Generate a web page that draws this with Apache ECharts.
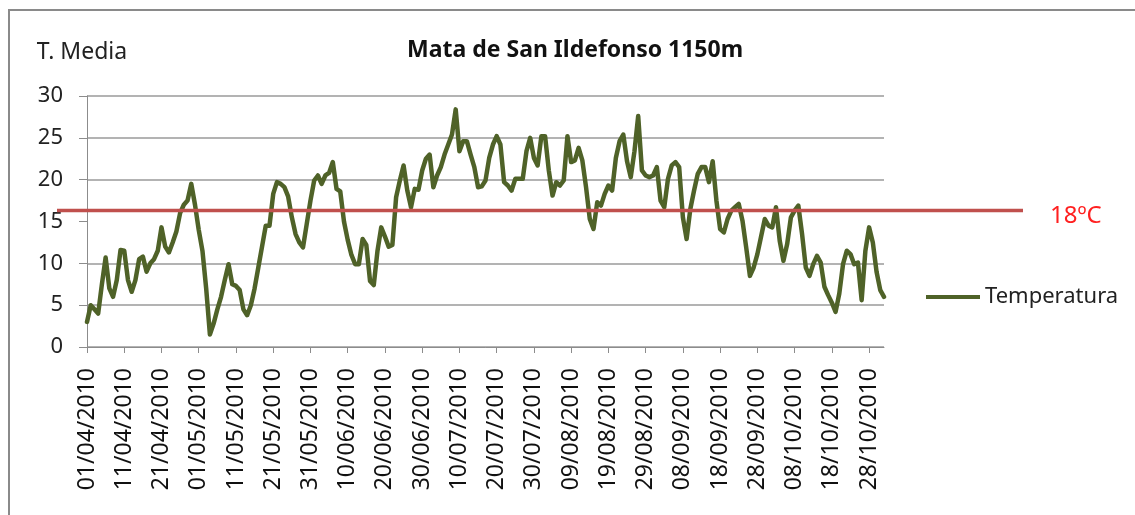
<!DOCTYPE html>
<html>
<head>
<meta charset="utf-8">
<title>Mata de San Ildefonso 1150m</title>
<script src="https://cdn.jsdelivr.net/npm/echarts@6/dist/echarts.min.js"></script>
<style>
  html, body { margin: 0; padding: 0; background: #fff; }
  #main { width: 1135px; height: 515px; }
</style>
</head>
<body>
<div id="main"></div>
<script>
// daily mean temperature, 01/04/2010 .. 01/11/2010
var temperatura = [
  3.0, 5.0, 4.5, 4.0, 7.5, 10.7, 7.0, 6.0, 8.0, 11.6,
  11.5, 8.0, 6.6, 8.0, 10.5, 10.8, 9.0, 10.0, 10.5, 11.5,
  14.3, 12.0, 11.3, 12.5, 13.8, 16.0, 17.0, 17.5, 19.5, 17.0,
  14.0, 11.5, 7.0, 1.5, 2.8, 4.5, 6.0, 8.0, 9.9, 7.5,
  7.3, 6.8, 4.5, 3.8, 5.0, 7.0, 9.5, 12.0, 14.5, 14.5,
  18.3, 19.7, 19.5, 19.1, 18.0, 15.5, 13.5, 12.5, 11.9, 14.7,
  17.5, 19.9, 20.5, 19.5, 20.5, 20.8, 22.1, 18.9, 18.6, 15.0,
  12.8, 11.0, 9.9, 9.9, 12.9, 12.2, 7.9, 7.4, 11.5, 14.3,
  13.2, 12.0, 12.2, 17.9, 19.9, 21.7, 18.7, 16.7, 18.9, 18.8,
  21.1, 22.5, 23.0, 19.1, 20.5, 21.5, 23.0, 24.2, 25.4, 28.4,
  23.4, 24.6, 24.6, 23.0, 21.5, 19.1, 19.2, 19.9, 22.6, 24.2,
  25.2, 24.2, 19.7, 19.3, 18.7, 20.1, 20.1, 20.1, 23.4, 25.0,
  22.6, 21.7, 25.2, 25.2, 21.1, 18.1, 19.7, 19.3, 19.9, 25.2,
  22.1, 22.3, 23.8, 22.3, 19.1, 15.3, 14.1, 17.3, 16.9, 18.3,
  19.3, 18.7, 22.6, 24.6, 25.4, 22.2, 20.3, 23.4, 27.6, 21.1,
  20.5, 20.3, 20.5, 21.5, 17.5, 16.7, 20.1, 21.7, 22.1, 21.5,
  15.5, 12.9, 16.5, 18.7, 20.7, 21.5, 21.5, 19.7, 22.2, 17.5,
  14.1, 13.7, 15.3, 16.3, 16.7, 17.1, 15.1, 11.9, 8.5, 9.5,
  11.1, 13.2, 15.3, 14.5, 14.3, 16.7, 12.7, 10.3, 12.3, 15.5,
  16.3, 16.9, 13.5, 9.5, 8.5, 9.9, 10.9, 10.1, 7.2, 6.2,
  5.3, 4.2, 6.4, 9.9, 11.5, 11.1, 9.9, 10.1, 5.6, 11.5,
  14.3, 12.5, 9.0, 6.8, 6.0
];

// one category per day
var fechas = [];
for (var i = 0; i < temperatura.length; i++) {
  var d = new Date(2010, 3, 1 + i);
  var dd = ("0" + d.getDate()).slice(-2);
  var mm = ("0" + (d.getMonth() + 1)).slice(-2);
  fechas.push(dd + "/" + mm + "/" + d.getFullYear());
}

var umbralValor = 16.3;      // where the red reference line sits on the axis
var umbralTexto = "18ºC";
var yTicks = [0, 5, 10, 15, 20, 25, 30];

var font = "Noto Sans";
var chart = echarts.init(document.getElementById("main"));

var option = {
  backgroundColor: "#fff",
  animation: false,
  title: {
    text: "Mata de San Ildefonso 1150m",
    left: 402,
    top: 34,
    textStyle: { fontFamily: font, fontSize: 23, fontWeight: "bold", color: "#111" }
  },
  legend: {
    data: ["Temperatura"],
    left: 921,
    top: 281,
    icon: "rect",
    itemWidth: 54,
    itemHeight: 4,
    itemGap: 5,
    textStyle: { fontFamily: font, fontSize: 22, color: "#222" }
  },
  grid: { left: 87, right: 251, top: 96, bottom: 168, containLabel: false },
  xAxis: {
    type: "category",
    data: fechas,
    boundaryGap: false,
    axisLine: { lineStyle: { color: "#8c8c8c", width: 1 } },
    axisTick: { interval: 9, length: 6, lineStyle: { color: "#8c8c8c" } },
    axisLabel: {
      interval: 9,
      rotate: 90,
      margin: 21,
      fontFamily: font,
      fontSize: 23,
      color: "#111"
    },
    splitLine: { show: false }
  },
  yAxis: {
    type: "value",
    min: yTicks[0],
    max: yTicks[yTicks.length - 1],
    interval: 5,
    name: "T. Media",
    nameLocation: "end",
    nameGap: 32,
    nameTextStyle: { fontFamily: font, fontSize: 23, color: "#222", align: "center", padding: [0, 10, 0, 0] },
    axisLine: { show: true, lineStyle: { color: "#8c8c8c", width: 1 } },
    axisTick: { show: true, length: 8, lineStyle: { color: "#8c8c8c" } },
    axisLabel: { margin: 24, fontFamily: font, fontSize: 22, color: "#222" },
    splitLine: {
      show: true,
      lineStyle: {
        // the 15 line is hidden under the annotation in the original
        color: ["#9a9a9a", "#9a9a9a", "#9a9a9a", "rgba(0,0,0,0)", "#9a9a9a", "#9a9a9a", "#9a9a9a"],
        width: 1.5
      }
    }
  },
  series: [
    {
      name: "Temperatura",
      type: "line",
      data: temperatura,
      showSymbol: false,
      symbol: "none",
      smooth: false,
      color: "#4f6228",
      lineStyle: { color: "#4f6228", width: 4.5, join: "round", cap: "round" }
    }
  ]
};
chart.setOption(option);

// red reference line and its label, placed through the y scale
var yPix = chart.convertToPixel({ yAxisIndex: 0 }, umbralValor);
chart.setOption({
  graphic: [
    {
      type: "rect",
      shape: { x: 9, y: 10, width: 1140, height: 520 },
      style: { fill: null, stroke: "#8a8a8a", lineWidth: 2 },
      silent: true
    },
    {
      type: "line",
      shape: { x1: 57, y1: yPix, x2: 1023, y2: yPix },
      style: { stroke: "#c0504d", lineWidth: 3.5 },
      z: 100
    },
    {
      type: "text",
      left: 1050,
      top: yPix - 6,
      style: { text: umbralTexto, fill: "#ff2020", font: "24px 'Noto Sans'" },
      z: 100
    }
  ]
});
</script>
</body>
</html>
